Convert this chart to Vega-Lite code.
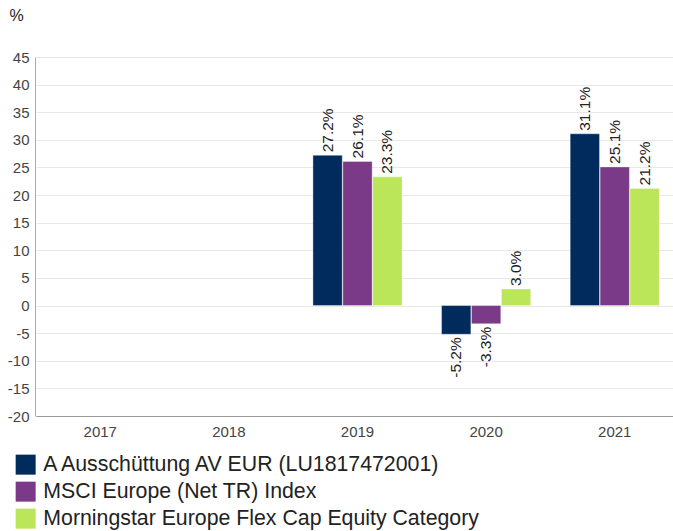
{
  "$schema": "https://vega.github.io/schema/vega-lite/v6.json",
  "autosize": {"type": "none"},
  "width": 638,
  "height": 359,
  "padding": {"left": 35, "top": 57, "right": 0, "bottom": 115},
  "background": "#ffffff",
  "config": {
    "font": "Liberation Sans",
    "view": {"stroke": null},
    "axis": {"labelFont": "Liberation Sans", "titleFont": "Liberation Sans"}
  },
  "data": {
    "values": [
      {"year": "2019", "series": "A Ausschüttung AV EUR (LU1817472001)", "value": 27.2},
      {"year": "2019", "series": "MSCI Europe (Net TR) Index", "value": 26.1},
      {"year": "2019", "series": "Morningstar Europe Flex Cap Equity Category", "value": 23.3},
      {"year": "2020", "series": "A Ausschüttung AV EUR (LU1817472001)", "value": -5.2},
      {"year": "2020", "series": "MSCI Europe (Net TR) Index", "value": -3.3},
      {"year": "2020", "series": "Morningstar Europe Flex Cap Equity Category", "value": 3.0},
      {"year": "2021", "series": "A Ausschüttung AV EUR (LU1817472001)", "value": 31.1},
      {"year": "2021", "series": "MSCI Europe (Net TR) Index", "value": 25.1},
      {"year": "2021", "series": "Morningstar Europe Flex Cap Equity Category", "value": 21.2}
    ]
  },
  "transform": [{"calculate": "(datum.value < 0 ? '-' : '') + format(abs(datum.value), '.1f') + '%'", "as": "lbl"}],
  "encoding": {
    "x": {
      "field": "year", "type": "nominal",
      "scale": {"domain": ["2017", "2018", "2019", "2020", "2021"], "range": [1, 644], "paddingInner": 0.307, "paddingOuter": 0.153},
      "axis": {"title": null, "labelAngle": 0, "labelFontSize": 15, "labelColor": "#444444", "ticks": false, "domainColor": "#999999", "labelPadding": 8, "grid": false}
    },
    "xOffset": {
      "field": "series", "type": "nominal",
      "scale": {"domain": ["A Ausschüttung AV EUR (LU1817472001)", "MSCI Europe (Net TR) Index", "Morningstar Europe Flex Cap Equity Category"], "paddingInner": 0.02}
    },
    "y": {
      "field": "value", "type": "quantitative",
      "scale": {"domain": [-20, 45], "nice": false, "zero": false},
      "axis": {
        "values": [-20, -15, -10, -5, 0, 5, 10, 15, 20, 25, 30, 35, 40, 45],
        "labelExpr": "toString(datum.value)",
        "title": "%", "titleAngle": 0, "titleX": -26, "titleY": -42, "titleAlign": "left", "titleBaseline": "middle",
        "titleFontSize": 16, "titleFontWeight": "normal", "titleColor": "#222222",
        "labelFontSize": 15, "labelColor": "#444444", "ticks": false, "labelPadding": 6,
        "domainColor": "#aaaaaa", "gridColor": "#e8e8e8"
      }
    }
  },
  "layer": [
    {
      "mark": {"type": "bar", "stroke": "#ffffff", "strokeWidth": 0.6, "strokeOpacity": 0.6},
      "encoding": {
        "y2": {"datum": 0},
        "color": {
          "field": "series", "type": "nominal",
          "scale": {"domain": ["A Ausschüttung AV EUR (LU1817472001)", "MSCI Europe (Net TR) Index", "Morningstar Europe Flex Cap Equity Category"], "range": ["#002b5c", "#7b3a87", "#bbe65a"]},
          "legend": {
            "title": null, "orient": "none", "legendX": -20, "legendY": 397, "direction": "vertical",
            "symbolType": "square", "symbolSize": 400, "symbolStrokeWidth": 0, "symbolOpacity": 1,
            "labelFontSize": 21.3, "labelColor": "#222222", "labelLimit": 700, "rowPadding": 5, "labelOffset": 7
          }
        }
      }
    },
    {
      "transform": [{"filter": "datum.value >= 0"}],
      "mark": {"type": "text", "angle": -90, "align": "left", "baseline": "middle", "dx": 3, "fontSize": 15.5, "color": "#222222"},
      "encoding": {"text": {"field": "lbl"}}
    },
    {
      "transform": [{"filter": "datum.value < 0"}],
      "mark": {"type": "text", "angle": -90, "align": "right", "baseline": "middle", "dx": -3, "fontSize": 15.5, "color": "#222222"},
      "encoding": {"text": {"field": "lbl"}}
    }
  ]
}
